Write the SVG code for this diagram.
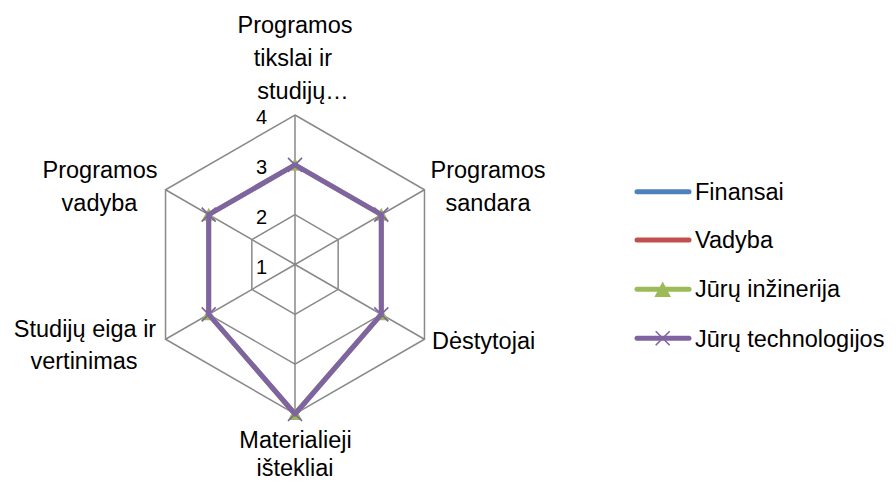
<svg xmlns="http://www.w3.org/2000/svg" xmlns:xlink="http://www.w3.org/1999/xlink" width="896" height="481" viewBox="0 0 896 481">
<style>
  .grid { fill: none; stroke: #898989; stroke-width: 1.5; }
  .lbl { font-family: "Liberation Sans", Arial, sans-serif; font-size: 23.5px; fill: #000; }
  .axis { font-family: "Liberation Sans", Arial, sans-serif; font-size: 20px; fill: #000; text-anchor: end; }
  .mid { text-anchor: middle; }
  .s-green { fill: none; stroke: #9BBB59; stroke-width: 5; stroke-linejoin: round; }
  .s-purple { fill: none; stroke: #8064A2; stroke-width: 5; stroke-linejoin: round; }
  .leg { stroke-width: 5; stroke-linecap: round; fill: none; }
</style>
<defs>
  <path id="tri" d="M0,-7 L7,6 L-7,6 Z" fill="#9BBB59"/>
  <path id="xm" d="M-7,-7 L7,7 M-7,7 L7,-7" stroke="#8064A2" stroke-width="1.6" fill="none"/>
</defs>
<rect width="896" height="481" fill="#fff"/>

<g id="grid">
  <polygon class="grid" points="295,214.67 338.16,239.58 338.16,289.42 295,314.33 251.84,289.42 251.84,239.58"/>
  <polygon class="grid" points="295,164.83 381.31,214.67 381.31,314.33 295,364.17 208.69,314.33 208.69,214.67"/>
  <polygon class="grid" points="295,115 424.47,189.75 424.47,339.25 295,414 165.53,339.25 165.53,189.75"/>
  <path class="grid" d="M295,264.5 L295,115 M295,264.5 L424.47,189.75 M295,264.5 L424.47,339.25 M295,264.5 L295,414 M295,264.5 L165.53,339.25 M295,264.5 L165.53,189.75"/>
</g>

<g id="axis-values">
  <text class="axis" x="267" y="124">4</text>
  <text class="axis" x="267" y="174">3</text>
  <text class="axis" x="267" y="224">2</text>
  <text class="axis" x="267" y="274">1</text>
</g>

<g id="series-jury-inzinerija">
  <polygon class="s-green" points="295,164.83 381.31,214.67 381.31,314.33 295,414 208.69,314.33 208.69,214.67"/>
  <use xlink:href="#tri" href="#tri" x="295" y="164.83"/>
  <use xlink:href="#tri" href="#tri" x="381.31" y="214.67"/>
  <use xlink:href="#tri" href="#tri" x="381.31" y="314.33"/>
  <use xlink:href="#tri" href="#tri" x="295" y="414"/>
  <use xlink:href="#tri" href="#tri" x="208.69" y="314.33"/>
  <use xlink:href="#tri" href="#tri" x="208.69" y="214.67"/>
</g>

<g id="series-jury-technologijos">
  <polygon class="s-purple" points="295,164.83 381.31,214.67 381.31,314.33 295,414 208.69,314.33 208.69,214.67"/>
  <use xlink:href="#xm" href="#xm" x="295" y="164.83"/>
  <use xlink:href="#xm" href="#xm" x="381.31" y="214.67"/>
  <use xlink:href="#xm" href="#xm" x="381.31" y="314.33"/>
  <use xlink:href="#xm" href="#xm" x="295" y="414"/>
  <use xlink:href="#xm" href="#xm" x="208.69" y="314.33"/>
  <use xlink:href="#xm" href="#xm" x="208.69" y="214.67"/>
</g>

<g id="cat-labels">
  <text class="lbl mid" x="295" y="33">Programos</text>
  <text class="lbl mid" x="293" y="66">tikslai ir</text>
  <text class="lbl mid" x="303" y="99">studijų…</text>
  <text class="lbl mid" x="488" y="178">Programos</text>
  <text class="lbl mid" x="488" y="211">sandara</text>
  <text class="lbl" x="432" y="349">Dėstytojai</text>
  <text class="lbl mid" x="295.5" y="448">Materialieji</text>
  <text class="lbl mid" x="295" y="476">ištekliai</text>
  <text class="lbl mid" x="85" y="337">Studijų eiga ir</text>
  <text class="lbl mid" x="84" y="369">vertinimas</text>
  <text class="lbl mid" x="100" y="178">Programos</text>
  <text class="lbl mid" x="99.5" y="211">vadyba</text>
</g>

<g id="legend">
  <line class="leg" x1="637" y1="191.7" x2="689" y2="191.7" stroke="#4F81BD"/>
  <text class="lbl" x="695" y="199.5">Finansai</text>
  <line class="leg" x1="637" y1="240" x2="689" y2="240" stroke="#C0504D"/>
  <text class="lbl" x="695" y="248">Vadyba</text>
  <line class="leg" x1="637" y1="289.3" x2="689" y2="289.3" stroke="#9BBB59"/>
  <path d="M662.7,281.5 L671,297 L654.4,297 Z" fill="#9BBB59"/>
  <text class="lbl" x="695" y="297.3">Jūrų inžinerija</text>
  <line class="leg" x1="637" y1="338.3" x2="689" y2="338.3" stroke="#8064A2"/>
  <use xlink:href="#xm" href="#xm" x="662.7" y="338.3"/>
  <text class="lbl" x="695" y="346.7">Jūrų technologijos</text>
</g>
</svg>
